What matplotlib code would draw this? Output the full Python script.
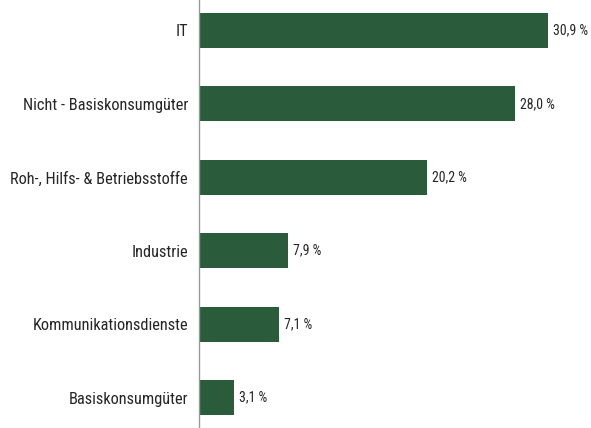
import matplotlib.pyplot as plt

plt.rcParams['font.family'] = ['Roboto Condensed', 'DejaVu Sans']

categories = ["IT", "Nicht - Basiskonsumgüter", "Roh-, Hilfs- & Betriebsstoffe",
              "Industrie", "Kommunikationsdienste", "Basiskonsumgüter"]
values = [30.9, 28.0, 20.2, 7.9, 7.1, 3.1]
value_labels = ["30,9 %", "28,0 %", "20,2 %", "7,9 %", "7,1 %", "3,1 %"]

fig = plt.figure(figsize=(5.91, 4.28), dpi=100)
ax = fig.add_axes([199 / 591, 0, 392 / 591, 1])

y = list(range(len(categories)))
ax.barh(y, values, height=0.477, color="#2a5b3a")

for yi, v, lab in zip(y, values, value_labels):
    ax.text(v + 0.4, yi, lab, va="center", ha="left", fontsize=10,
            color="#262626", fontweight="normal")

ax.set_xlim(0, 34.7)
ax.set_ylim(5.415, -0.415)
ax.set_yticks(y)
ax.set_yticklabels(categories, fontsize=11.8, color="#262626", fontweight="normal")
ax.tick_params(axis="y", length=0, pad=8)
ax.set_xticks([])

for s in ["top", "right", "bottom"]:
    ax.spines[s].set_visible(False)
ax.spines["left"].set_color("#999999")
ax.spines["left"].set_linewidth(1.0)

fig.savefig("out.png", dpi=100)
